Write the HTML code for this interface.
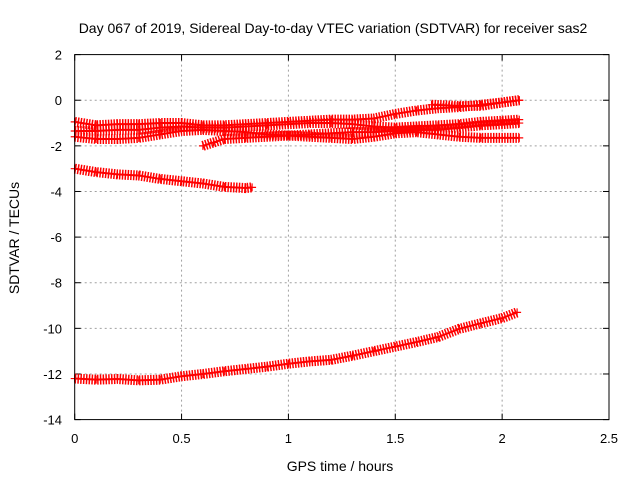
<!DOCTYPE html>
<html><head><meta charset="utf-8"><style>
body{margin:0;background:#fff}
svg{display:block;font-family:"Liberation Sans",sans-serif}
</style></head><body>
<svg id="chart" width="640" height="480" viewBox="0 0 640 480">
<rect width="640" height="480" fill="#fff"/>
<text x="333" y="33" font-size="14" text-anchor="middle">Day 067 of 2019, Sidereal Day-to-day VTEC variation (SDTVAR) for receiver sas2</text>
<text transform="translate(19,238) rotate(-90)" font-size="14" text-anchor="middle">SDTVAR / TECUs</text>
<text x="340" y="471" font-size="14" text-anchor="middle">GPS time / hours</text>
<g id="grid"></g>
<g id="ticks"></g>
<g id="series"></g>
<rect x="74.7" y="54.6" width="534.3" height="365" fill="none" stroke="#000" stroke-width="1"/>
</svg>
<script>
const xTicks=[0,0.5,1,1.5,2,2.5];
const xTickLabels=["0","0.5","1","1.5","2","2.5"];
const yTicks=[2,0,-2,-4,-6,-8,-10,-12,-14];
const yTickLabels=["2","0","-2","-4","-6","-8","-10","-12","-14"];
const s1x=[0,0.1,0.2,0.3,0.4,0.5,0.6,0.7,0.8,0.9,1.0,1.1,1.2,1.3,1.4,1.5,1.6,1.7,1.8,1.9,2.0,2.08];
const s1y=[-0.95,-1.1,-1.05,-1.05,-1.0,-1.0,-1.1,-1.1,-1.05,-1.0,-0.95,-0.9,-0.85,-0.85,-0.8,-0.6,-0.45,-0.35,-0.3,-0.2,-0.1,0.0];
const s2x=[0,0.1,0.2,0.3,0.4,0.5,0.6,0.7,0.8,0.9,1.0,1.1,1.2,1.3,1.4,1.5,1.6,1.7,1.8,1.9,2.0,2.08];
const s2y=[-1.35,-1.35,-1.3,-1.3,-1.2,-1.15,-1.2,-1.2,-1.15,-1.1,-1.05,-1.0,-1.0,-1.05,-1.15,-1.2,-1.15,-1.1,-1.05,-0.95,-0.9,-0.85];
const s3x=[0,0.1,0.2,0.3,0.4,0.5,0.6,0.7,0.8,0.9,1.0,1.1,1.2,1.3,1.4,1.5,1.6,1.7,1.8,1.9,2.0,2.08];
const s3y=[-1.6,-1.7,-1.7,-1.65,-1.5,-1.35,-1.3,-1.35,-1.4,-1.5,-1.55,-1.6,-1.65,-1.7,-1.6,-1.45,-1.4,-1.5,-1.6,-1.65,-1.65,-1.65];
const s4x=[0.6,0.65,0.7,0.8,0.9,1.0,1.1,1.2,1.3,1.4,1.5,1.6,1.7,1.8,1.9,2.0,2.08];
const s4y=[-2.0,-1.85,-1.7,-1.65,-1.6,-1.55,-1.5,-1.45,-1.4,-1.4,-1.35,-1.3,-1.3,-1.2,-1.1,-1.05,-1.0];
const s5x=[0,0.1,0.2,0.3,0.4,0.5,0.6,0.7,0.8,0.83];
const s5y=[-3.0,-3.15,-3.25,-3.3,-3.45,-3.55,-3.65,-3.8,-3.85,-3.82];
const s6x=[0,0.1,0.2,0.3,0.4,0.5,0.6,0.7,0.8,0.9,1.0,1.1,1.2,1.3,1.4,1.5,1.6,1.7,1.8,1.9,2.0,2.07];
const s6y=[-12.2,-12.25,-12.22,-12.28,-12.25,-12.1,-12.0,-11.88,-11.78,-11.68,-11.55,-11.45,-11.38,-11.2,-11.0,-10.8,-10.6,-10.38,-10.02,-9.78,-9.55,-9.3];
const s7x=[1.67,1.8,1.9,2.0,2.08];
const s7y=[-0.2,-0.25,-0.25,-0.1,0.0];

const NS="http://www.w3.org/2000/svg";
const X0=74.7,X1=609,Y0=419.6,Y1=54.6;
function sx(v){return X0+(v-0)/(2.5-0)*(X1-X0);}
function sy(v){return Y0-(v-(-14))/(2-(-14))*(Y0-Y1);}
function mk(tag,attrs,parent){const e=document.createElementNS(NS,tag);for(const k in attrs)e.setAttribute(k,attrs[k]);parent.appendChild(e);return e;}
const grid=document.getElementById('grid'),ticks=document.getElementById('ticks'),ser=document.getElementById('series');
xTicks.forEach((t,i)=>{
  const x=sx(t);
  if(i>0&&i<xTicks.length-1){const g=mk('line',{x1:x,x2:x,y1:Y1,y2:Y0,stroke:'#a0a0a0','stroke-dasharray':'2 3'},grid);
  
  }
  mk('line',{x1:x,x2:x,y1:Y0,y2:Y0-6,stroke:'#000'},ticks);
  mk('line',{x1:x,x2:x,y1:Y1,y2:Y1+6,stroke:'#000'},ticks);
  const tx=mk('text',{x:x,y:443,'font-size':13,'text-anchor':'middle'},ticks);
  tx.textContent=xTickLabels[i];
  
  
});
yTicks.forEach((t,i)=>{
  const y=sy(t);
  if(i>0&&i<yTicks.length-1){const g=mk('line',{x1:X0,x2:X1,y1:y,y2:y,stroke:'#a0a0a0','stroke-dasharray':'2 3'},grid);
  
  }
  mk('line',{x1:X0,x2:X0+6,y1:y,y2:y,stroke:'#000'},ticks);
  mk('line',{x1:X1,x2:X1-6,y1:y,y2:y,stroke:'#000'},ticks);
  const tx=mk('text',{x:62,y:y+5,'font-size':13,'text-anchor':'end'},ticks);
  tx.textContent=yTickLabels[i];
  
  
});
const all=[[s1x,s1y],[s2x,s2y],[s3x,s3y],[s4x,s4y],[s5x,s5y],[s6x,s6y],[s7x,s7y]];
all.forEach((s,k)=>{
  const g=mk('g',{},ser);
  
  
  const pts=s[0].map((v,i)=>sx(v)+','+sy(s[1][i])).join(' ');
  mk('polyline',{points:pts,fill:'none',stroke:'#ff0000','stroke-width':10,'stroke-dasharray':'1.5 1.3'},g);
  mk('polyline',{points:pts,fill:'none',stroke:'#ff0000','stroke-width':2},g);
  s[0].forEach((v,i)=>{
    const x=sx(v),y=sy(s[1][i]);
    const p=mk('path',{d:`M${x-4},${y}h8M${x},${y-4}v8`,stroke:'#ff0000','stroke-width':1.2},g);
    
    
  });
});
</script>
</body></html>
